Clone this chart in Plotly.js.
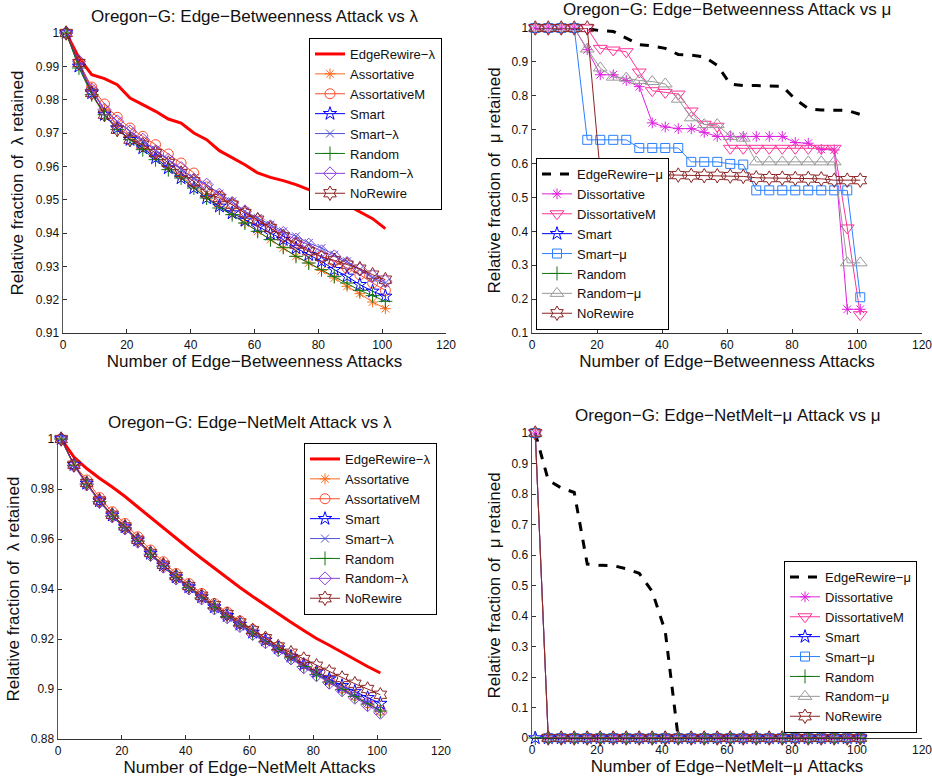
<!DOCTYPE html>
<html>
<head>
<meta charset="utf-8">
<script src="https://cdn.plot.ly/plotly-3.0.1.min.js"></script>
<style>html,body{margin:0;padding:0;background:#fff;}#chart{width:932px;height:780px;}</style>
</head>
<body>
<div id="chart"></div>
<script>
// ---------- shared x (attack counts) ----------
const attacks = [1,5,9,13,17,21,25,29,33,37,41,45,49,53,57,61,65,69,73,77,81,85,89,93,97,101];

// ---------- Panel 1: Edge-Betweenness attack vs lambda ----------
const eb_lam_EdgeRewire = [1.0,0.9925,0.9875,0.9863,0.9845,0.9805,0.9785,0.9765,0.9742,0.973,0.970,0.968,0.9647,0.9625,0.9605,0.958,0.9567,0.9557,0.9545,0.953,0.952,0.9505,0.9485,0.9465,0.9443,0.9413];
const eb_lam_Assortative = [1,0.991,0.9835,0.977,0.972,0.969,0.966,0.963,0.960,0.957,0.954,0.951,0.948,0.9455,0.943,0.9405,0.938,0.9355,0.933,0.931,0.9288,0.9265,0.924,0.9218,0.9193,0.9173];
const eb_lam_AssortativeM = [1,0.991,0.9838,0.9787,0.9747,0.9715,0.969,0.9665,0.9637,0.961,0.958,0.9538,0.951,0.9485,0.946,0.9435,0.9415,0.939,0.937,0.935,0.933,0.9315,0.9295,0.9275,0.925,0.9228];
const eb_lam_Smart = [1,0.990,0.982,0.9755,0.9715,0.968,0.9655,0.9625,0.9595,0.9565,0.9535,0.9505,0.948,0.946,0.9438,0.9418,0.9398,0.938,0.9355,0.9335,0.9315,0.929,0.927,0.9245,0.9225,0.921];
const eb_lam_SmartLam = [1,0.990,0.9825,0.977,0.9735,0.9705,0.9675,0.965,0.962,0.959,0.9565,0.9545,0.9518,0.9495,0.9465,0.9445,0.9425,0.9405,0.939,0.937,0.9355,0.9335,0.9315,0.929,0.9265,0.925];
const eb_lam_Random = [1,0.9895,0.9815,0.9755,0.971,0.968,0.965,0.962,0.959,0.9565,0.9535,0.9505,0.9475,0.9455,0.943,0.9405,0.938,0.9357,0.933,0.931,0.929,0.927,0.925,0.9228,0.9212,0.9195];
const eb_lam_RandomLam = [1,0.9915,0.983,0.977,0.9735,0.9705,0.968,0.9645,0.962,0.9595,0.956,0.9545,0.9515,0.949,0.9465,0.944,0.942,0.940,0.938,0.9365,0.9345,0.933,0.931,0.929,0.927,0.9255];
const eb_lam_NoRewire = [1,0.991,0.982,0.9755,0.971,0.968,0.9665,0.964,0.961,0.958,0.9555,0.952,0.9505,0.9485,0.946,0.944,0.9415,0.939,0.9365,0.9345,0.9328,0.9318,0.9305,0.9293,0.9275,0.926];

// ---------- Panel 2: Edge-Betweenness attack vs mu ----------
const eb_mu_EdgeRewire = [1,1,1,1,0.998,0.992,0.99,0.97,0.951,0.947,0.94,0.922,0.92,0.915,0.89,0.835,0.83,0.83,0.829,0.828,0.79,0.762,0.758,0.758,0.757,0.745];
const eb_mu_Dissortative = [1,1,1,1,0.936,0.862,0.862,0.845,0.827,0.72,0.708,0.703,0.703,0.692,0.68,0.68,0.68,0.68,0.68,0.68,0.662,0.66,0.642,0.64,0.17,0.17];
const eb_mu_DissortativeM = [1,1,1,1,1,0.94,0.935,0.93,0.87,0.815,0.81,0.805,0.755,0.716,0.71,0.645,0.645,0.645,0.645,0.645,0.645,0.645,0.645,0.645,0.41,0.154];
const eb_mu_Smart = [null,null,null,null,null,null,null,null,null,null,null,null,null,null,null,null,null,null,null,null,null,null,null,null,null,null];
const eb_mu_SmartMu = [1,1,1,1,0.67,0.67,0.67,0.67,0.646,0.646,0.646,0.646,0.605,0.605,0.605,0.599,0.597,0.521,0.521,0.521,0.521,0.521,0.521,0.521,0.521,0.2055];
const eb_mu_Random = [null,null,null,null,null,null,null,null,null,null,null,null,null,null,null,null,null,null,null,null,null,null,null,null,null,null];
const eb_mu_RandomMu = [1,1,1,1,0.938,0.882,0.855,0.852,0.845,0.842,0.835,0.79,0.735,0.715,0.715,0.68,0.675,0.605,0.605,0.605,0.605,0.605,0.605,0.605,0.307,0.307];
const eb_mu_NoRewire = [1,1,1,1,1,0.572,0.569,0.569,0.568,0.567,0.566,0.566,0.565,0.564,0.564,0.563,0.562,0.558,0.557,0.557,0.556,0.556,0.555,0.551,0.551,0.551];

// ---------- Panel 3: Edge-NetMelt attack vs lambda ----------
const nm_lam_EdgeRewire = [1.0,0.9928,0.9882,0.9843,0.9808,0.977,0.9728,0.9686,0.9644,0.9603,0.9562,0.9522,0.9483,0.9444,0.9406,0.937,0.9335,0.93,0.9267,0.9234,0.9202,0.9175,0.9146,0.9118,0.909,0.9064];
const nm_lam_Assortative = [1,0.9897,0.9824,0.9754,0.9697,0.965,0.9597,0.9544,0.9497,0.945,0.941,0.937,0.933,0.9295,0.926,0.9228,0.9195,0.9163,0.913,0.9095,0.9063,0.9031,0.9,0.8972,0.8942,0.8912];
const nm_lam_AssortativeM = [1,0.9899,0.9836,0.9766,0.9709,0.9662,0.9609,0.9556,0.9509,0.9462,0.9422,0.9382,0.9342,0.9307,0.9272,0.9238,0.9203,0.917,0.9136,0.9101,0.9068,0.9036,0.9004,0.8975,0.8945,0.8915];
const nm_lam_Smart = [1,0.9897,0.9822,0.9752,0.9695,0.9648,0.9595,0.9542,0.9495,0.9448,0.9408,0.9368,0.9328,0.9293,0.9258,0.9226,0.9195,0.9163,0.913,0.9098,0.9068,0.904,0.9013,0.899,0.8965,0.8942];
const nm_lam_SmartLam = [1,0.9896,0.9821,0.9751,0.9694,0.9647,0.9594,0.9541,0.9494,0.9447,0.9407,0.9367,0.9327,0.9292,0.9257,0.9225,0.9192,0.916,0.9127,0.9092,0.906,0.903,0.9,0.8972,0.8942,0.8913];
const nm_lam_Random = [1,0.9895,0.982,0.975,0.9692,0.9645,0.9592,0.9539,0.9492,0.9445,0.9405,0.9365,0.9325,0.929,0.9255,0.9223,0.919,0.9158,0.9125,0.909,0.9058,0.9028,0.8998,0.897,0.894,0.8912];
const nm_lam_RandomLam = [1,0.9893,0.9818,0.9748,0.969,0.9642,0.9589,0.9536,0.9489,0.9442,0.9402,0.9362,0.9322,0.9287,0.9252,0.922,0.9187,0.9155,0.9122,0.9087,0.9055,0.9025,0.8995,0.8965,0.8935,0.8905];
const nm_lam_NoRewire = [1,0.9897,0.9824,0.9754,0.9697,0.965,0.9597,0.9544,0.9497,0.9452,0.9412,0.9373,0.9335,0.93,0.9266,0.9235,0.9203,0.917,0.9145,0.912,0.9093,0.9069,0.9044,0.9021,0.900,0.8977];

// ---------- Panel 4: Edge-NetMelt-mu attack vs mu ----------
const nm_mu_EdgeRewire = [1.0,0.845,0.82,0.805,0.57,0.566,0.565,0.555,0.54,0.48,0.35,0,0,0,0,0,0,0,0,0,0,0,0,0,0,0];
const nm_mu_Dissortative = [1,0,0,0,0,0,0,0,0,0,0,0,0,0,0,0,0,0,0,0,0,0,0,0,0,0];
const nm_mu_DissortativeM = [1,0,0,0,0,0,0,0,0,0,0,0,0,0,0,0,0,0,0,0,0,0,0,0,0,0];
const nm_mu_Smart = [0,0,0,0,0,0,0,0,0,0,0,0,0,0,0,0,0,0,0,0,0,0,0,0,0,0];
const nm_mu_SmartMu = [1,0,0,0,0,0,0,0,0,0,0,0,0,0,0,0,0,0,0,0,0,0,0,0,0,0];
const nm_mu_Random = [0,0,0,0,0,0,0,0,0,0,0,0,0,0,0,0,0,0,0,0,0,0,0,0,0,0];
const nm_mu_RandomMu = [1,0,0,0,0,0,0,0,0,0,0,0,0,0,0,0,0,0,0,0,0,0,0,0,0,0];
const nm_mu_NoRewire = [1,0,0,0,0,0,0,0,0,0,0,0,0,0,0,0,0,0,0,0,0,0,0,0,0,0];

// ---------- names / labels ----------
const lamNames = ['EdgeRewire\u2212\u03bb','Assortative','AssortativeM','Smart','Smart\u2212\u03bb','Random','Random\u2212\u03bb','NoRewire'];
const muNames = ['EdgeRewire\u2212\u03bc','Dissortative','DissortativeM','Smart','Smart\u2212\u03bc','Random','Random\u2212\u03bc','NoRewire'];
const panelTitles = ['Oregon\u2212G: Edge\u2212Betweenness Attack vs \u03bb','Oregon\u2212G: Edge\u2212Betweenness Attack vs \u03bc','Oregon\u2212G: Edge\u2212NetMelt Attack vs \u03bb','Oregon\u2212G: Edge\u2212NetMelt\u2212\u03bc Attack vs \u03bc'];
const xTitles = ['Number of Edge\u2212Betweenness Attacks','Number of Edge\u2212Betweenness Attacks','Number of Edge\u2212NetMelt Attacks','Number of Edge\u2212NetMelt\u2212\u03bc Attacks'];
const yTitles = ['Relative fraction of \u00a0\u03bb retained','Relative fraction of \u00a0\u03bc retained','Relative fraction of \u00a0\u03bb retained','Relative fraction of \u00a0\u03bc retained'];

// ---------- styles ----------
const FONT = '"Liberation Sans", Arial, Helvetica, sans-serif';
const lamStyles = [
  {color:'#ff0000', width:3, symbol:null},
  {color:'#ff6a1a', width:1, symbol:'asterisk-open', size:9},
  {color:'#ff4a2a', width:1, symbol:'circle-open', size:10},
  {color:'#0000ff', width:1, symbol:'star-open', size:10},
  {color:'#5050d8', width:1, symbol:'x-thin-open', size:8},
  {color:'#117711', width:1, symbol:'cross-thin-open', size:10},
  {color:'#8a3ee0', width:1, symbol:'diamond-open', size:10},
  {color:'#8b2222', width:1, symbol:'hexagram-open', size:11}
];
const muStyles = [
  {color:'#000000', width:3, dash:'dash', symbol:null},
  {color:'#e020e0', width:1, symbol:'asterisk-open', size:9},
  {color:'#ff3399', width:1, symbol:'triangle-down-open', size:12},
  {color:'#0000ff', width:1, symbol:'star-open', size:10},
  {color:'#2a80ff', width:1, symbol:'square-open', size:9},
  {color:'#117711', width:1, symbol:'cross-thin-open', size:10},
  {color:'#999999', width:1, symbol:'triangle-up-open', size:12},
  {color:'#8b2222', width:1, symbol:'hexagram-open', size:11}
];

const panels = [
  {series:[eb_lam_EdgeRewire,eb_lam_Assortative,eb_lam_AssortativeM,eb_lam_Smart,eb_lam_SmartLam,eb_lam_Random,eb_lam_RandomLam,eb_lam_NoRewire], names:lamNames, styles:lamStyles},
  {series:[eb_mu_EdgeRewire,eb_mu_Dissortative,eb_mu_DissortativeM,eb_mu_Smart,eb_mu_SmartMu,eb_mu_Random,eb_mu_RandomMu,eb_mu_NoRewire], names:muNames, styles:muStyles},
  {series:[nm_lam_EdgeRewire,nm_lam_Assortative,nm_lam_AssortativeM,nm_lam_Smart,nm_lam_SmartLam,nm_lam_Random,nm_lam_RandomLam,nm_lam_NoRewire], names:lamNames, styles:lamStyles},
  {series:[nm_mu_EdgeRewire,nm_mu_Dissortative,nm_mu_DissortativeM,nm_mu_Smart,nm_mu_SmartMu,nm_mu_Random,nm_mu_RandomMu,nm_mu_NoRewire], names:muNames, styles:muStyles}
];

const W = 932, H = 780;
// plot areas in pixels: [left, right, top, bottom]
const boxes = [[63,446,33,333],[532,922,28,333],[58,441,439,739],[532,922,433,738]];
const yRanges = [[0.91,1],[0.1,1],[0.88,1],[0,1]];
const yDticks = [0.01,0.1,0.02,0.1];
const yStandoff = [8,6,7,6];

const traces = [];
panels.forEach((p,pi)=>{
  const ax = pi===0 ? '' : String(pi+1);
  p.series.forEach((ys,si)=>{
    const st = p.styles[si];
    const t = {
      type:'scatter', x:attacks, y:ys, name:p.names[si],
      xaxis:'x'+ax, yaxis:'y'+ax, legend: pi===0 ? 'legend' : 'legend'+(pi+1),
      cliponaxis:false,
      line:{color:st.color, width:st.width, dash:st.dash||'solid'},
      mode: st.symbol ? 'lines+markers' : 'lines'
    };
    if (st.symbol) t.marker = {symbol:st.symbol, size:st.size, color:st.color, line:{color:st.color, width:1}};
    traces.push(t);
  });
});

const layout = {
  width:W, height:H, margin:{l:0,r:0,t:0,b:0},
  paper_bgcolor:'#fff', plot_bgcolor:'#fff',
  font:{family:FONT, size:12, color:'#111'},
  showlegend:true, annotations:[]
};
const legendPos = [
  {x:442/W, y:1-38/H, xanchor:'right', yanchor:'top'},
  {x:536/W, y:1-330/H, xanchor:'left', yanchor:'bottom'},
  {x:437/W, y:1-443/H, xanchor:'right', yanchor:'top'},
  {x:917/W, y:1-733/H, xanchor:'right', yanchor:'bottom'}
];
const titlePos = [[254,16],[727,10],[250,422],[727,415]];

boxes.forEach((b,i)=>{
  const ax = i===0 ? '' : String(i+1);
  layout['xaxis'+ax] = {
    domain:[b[0]/W, b[1]/W], anchor:'y'+ax, range:[0,120], dtick:20, tick0:0,
    ticks:'inside', ticklen:4, tickcolor:'#333', showline:true, linecolor:'#333', linewidth:1.2,
    showgrid:false, zeroline:false, tickfont:{size:12, color:'#111'}, ticklabeloverflow:'allow',
    title:{text:xTitles[i], font:{size:17, color:'#111'}, standoff:2}
  };
  layout['yaxis'+ax] = {
    domain:[1-b[3]/H, 1-b[2]/H], anchor:'x'+ax, range:yRanges[i], dtick:yDticks[i], tick0:0,
    ticks:'inside', ticklen:4, tickcolor:'#333', showline:true, linecolor:'#555', linewidth:1.5,
    showgrid:false, zeroline:false, tickfont:{size:12, color:'#111'}, ticklabeloverflow:'allow',
    title:{text:yTitles[i], font:{size:17, color:'#111'}, standoff:yStandoff[i]}
  };
  const lg = Object.assign({
    bgcolor:'#fff', bordercolor:'#000', borderwidth:1,
    font:{size:13, color:'#111', family:FONT}, itemwidth:30, tracegroupgap:0
  }, legendPos[i]);
  layout[i===0 ? 'legend' : 'legend'+(i+1)] = lg;
  layout.annotations.push({
    text:panelTitles[i], xref:'paper', yref:'paper',
    x:titlePos[i][0]/W, y:1-titlePos[i][1]/H, xanchor:'center', yanchor:'middle',
    showarrow:false, font:{size:17, color:'#111', family:FONT}
  });
});

Plotly.newPlot('chart', traces, layout, {displayModeBar:false, staticPlot:true});
</script>
</body>
</html>
